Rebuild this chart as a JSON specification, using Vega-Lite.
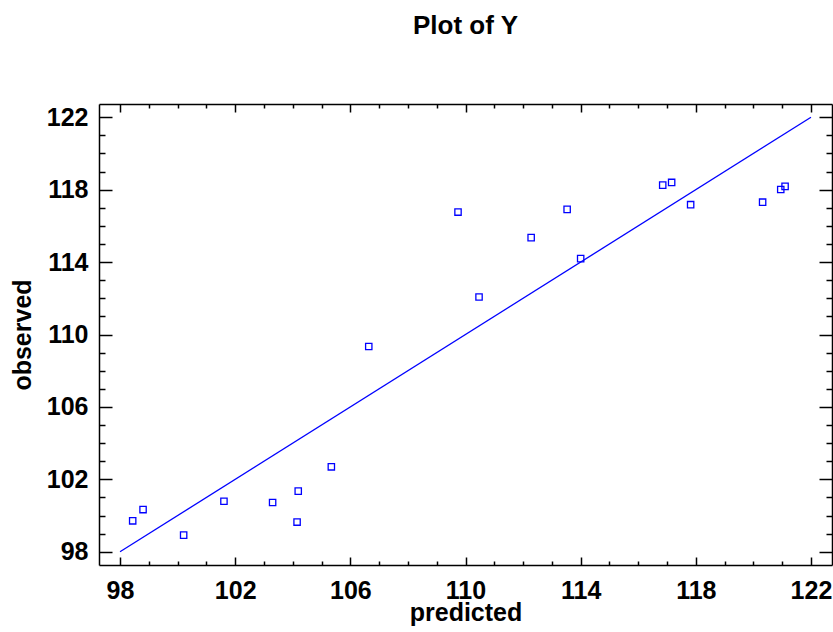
{
  "$schema": "https://vega.github.io/schema/vega-lite/v6.json",
  "autosize": "none",
  "width": 733,
  "height": 461,
  "padding": {"left": 99, "top": 104, "right": 1, "bottom": 67},
  "background": "white",
  "title": {"text": "Plot of Y", "font": "Liberation Sans", "fontSize": 26, "fontWeight": "bold", "color": "black", "anchor": "middle", "offset": 64},
  "config": {
    "view": {"stroke": null},
    "axis": {
      "grid": false,
      "domainColor": "black",
      "domainWidth": 1.5,
      "tickColor": "black",
      "tickWidth": 1.5,
      "labelFont": "Liberation Sans",
      "labelFontWeight": "bold",
      "labelFontSize": 25,
      "labelColor": "black",
      "labelOverlap": false,
      "labelFlush": false,
      "titleFont": "Liberation Sans",
      "titleFontWeight": "bold",
      "titleFontSize": 25,
      "titleColor": "black"
    }
  },
  "resolve": {"axis": {"x": "independent", "y": "independent"}},
  "layer": [
    {
      "data": {"values": [
        {"predicted": 98.44, "observed": 99.71},
        {"predicted": 98.80, "observed": 100.33},
        {"predicted": 100.21, "observed": 98.92},
        {"predicted": 101.61, "observed": 100.79},
        {"predicted": 103.30, "observed": 100.72},
        {"predicted": 104.19, "observed": 101.35},
        {"predicted": 104.15, "observed": 99.64},
        {"predicted": 105.34, "observed": 102.69},
        {"predicted": 106.64, "observed": 109.34},
        {"predicted": 109.74, "observed": 116.76},
        {"predicted": 110.47, "observed": 112.07},
        {"predicted": 112.28, "observed": 115.35},
        {"predicted": 113.53, "observed": 116.91},
        {"predicted": 114.00, "observed": 114.19},
        {"predicted": 116.85, "observed": 118.25},
        {"predicted": 117.16, "observed": 118.40},
        {"predicted": 117.82, "observed": 117.17},
        {"predicted": 120.32, "observed": 117.31},
        {"predicted": 120.95, "observed": 118.01},
        {"predicted": 121.10, "observed": 118.18}
      ]},
      "mark": {"type": "point", "shape": "square", "filled": false, "color": "#0000ff", "size": 40, "strokeWidth": 1.3, "opacity": 1},
      "encoding": {
        "x": {"field": "predicted", "type": "quantitative",
          "scale": {"domain": [97.27, 122.73], "nice": false, "zero": false},
          "axis": {"orient": "bottom", "title": "predicted",
            "values": [98,99,100,101,102,103,104,105,106,107,108,109,110,111,112,113,114,115,116,117,118,119,120,121,122],
            "tickSize": {"condition": {"test": "datum.value % 4 === 2", "value": -8}, "value": -4},
            "labelExpr": "datum.value % 4 === 2 ? datum.label : ''",
            "labelPadding": 21, "titlePadding": -7}},
        "y": {"field": "observed", "type": "quantitative",
          "scale": {"domain": [97.27, 122.73], "nice": false, "zero": false},
          "axis": {"orient": "left", "title": "observed",
            "values": [98,99,100,101,102,103,104,105,106,107,108,109,110,111,112,113,114,115,116,117,118,119,120,121,122],
            "tickSize": {"condition": {"test": "datum.value % 4 === 2", "value": -13}, "value": -6},
            "labelExpr": "datum.value % 4 === 2 ? datum.label : ''",
            "labelPadding": 24, "titlePadding": 11}}
      }
    },
    {
      "data": {"values": [
        {"predicted": 98, "observed": 98},
        {"predicted": 122, "observed": 122}
      ]},
      "mark": {"type": "line", "color": "#0000ff", "strokeWidth": 1.3},
      "encoding": {
        "x": {"field": "predicted", "type": "quantitative",
          "scale": {"domain": [97.27, 122.73], "nice": false, "zero": false},
          "axis": {"orient": "top", "title": null, "labels": false,
            "values": [98,99,100,101,102,103,104,105,106,107,108,109,110,111,112,113,114,115,116,117,118,119,120,121,122],
            "tickSize": {"condition": {"test": "datum.value % 4 === 2", "value": -8}, "value": -4}}},
        "y": {"field": "observed", "type": "quantitative",
          "scale": {"domain": [97.27, 122.73], "nice": false, "zero": false},
          "axis": {"orient": "right", "title": null, "labels": false,
            "values": [98,99,100,101,102,103,104,105,106,107,108,109,110,111,112,113,114,115,116,117,118,119,120,121,122],
            "tickSize": {"condition": {"test": "datum.value % 4 === 2", "value": -13}, "value": -6}}}
      }
    }
  ]
}
